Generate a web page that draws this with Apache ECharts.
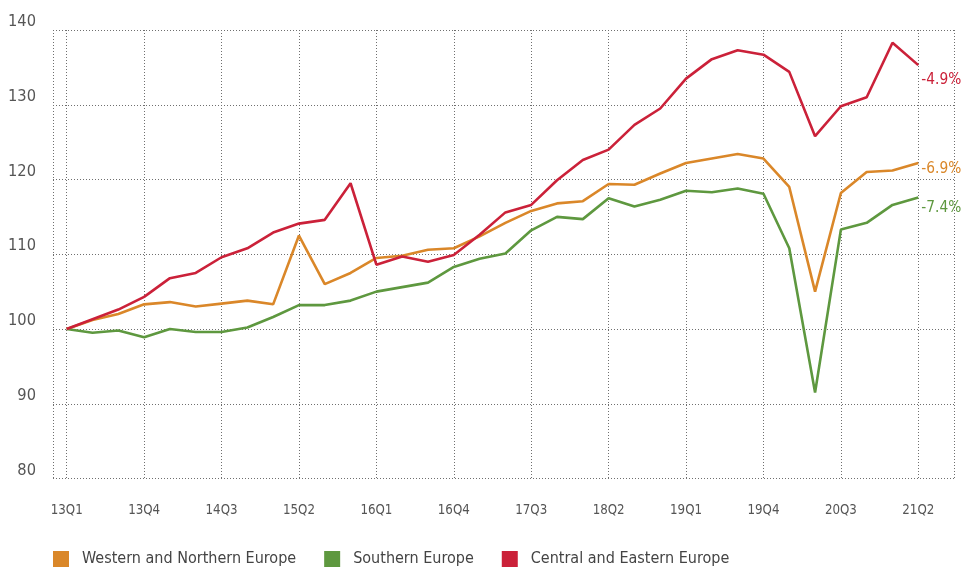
<!DOCTYPE html>
<html>
<head>
<meta charset="utf-8">
<title>Europe index</title>
<script src="https://cdn.jsdelivr.net/npm/echarts@6/dist/echarts.min.js"></script>
<style>
  html, body { margin: 0; padding: 0; background: #fff; }
  #main { width: 961px; height: 569px; }
</style>
</head>
<body>
<div id="main"></div>
<script>
// quarters 13Q1 .. 21Q2
var quarters = [];
for (var yr = 13; yr <= 21; yr++) {
  for (var q = 1; q <= 4; q++) {
    if (yr === 21 && q > 2) break;
    quarters.push(yr + 'Q' + q);
  }
}

var westNorth = [100, 101.2, 102.0, 103.3, 103.6, 103.0, 103.4, 103.8, 103.3, 112.5,
  106.0, 107.5, 109.5, 109.8, 110.6, 110.8, 112.4, 114.2, 115.8, 116.8,
  117.1, 119.4, 119.3, 120.8, 122.2, 122.8, 123.4, 122.8, 119.0, 105.0,
  118.2, 121.0, 121.2, 122.2];
var southern = [100, 99.5, 99.8, 98.9, 100.0, 99.6, 99.6, 100.2, 101.6, 103.2,
  103.2, 103.8, 105.0, 105.6, 106.2, 108.3, 109.4, 110.1, 113.2, 115.0,
  114.7, 117.5, 116.4, 117.3, 118.5, 118.3, 118.8, 118.1, 110.8, 91.5,
  113.3, 114.2, 116.6, 117.6];
var centralEast = [100, 101.3, 102.6, 104.3, 106.8, 107.5, 109.6, 110.8, 112.9, 114.1,
  114.6, 119.5, 108.6, 109.7, 109.0, 109.9, 112.6, 115.6, 116.6, 119.9,
  122.6, 124.0, 127.3, 129.5, 133.5, 136.1, 137.3, 136.7, 134.4, 125.8,
  129.8, 131.0, 138.3, 135.3];

var names = ['Western and Northern Europe', 'Southern Europe', 'Central and Eastern Europe'];
var endLabels = ['-6.9%', '-7.4%', '-4.9%'];
var colors = ['#DA8729', '#5E983F', '#CB2139'];

var fontNarrow = '"Noto Sans ExtraCondensed", "Noto Sans Condensed", "Liberation Sans Narrow", "DejaVu Sans Condensed", sans-serif';

// pick a font size so the text is about as wide as in the original (condensed face)
var measureCtx = document.createElement('canvas').getContext('2d');
function fitSize(text, target, maxSize) {
  measureCtx.font = '100px ' + fontNarrow;
  var w = measureCtx.measureText(text).width;
  return Math.min(maxSize, Math.round(1000 * target / w) / 10);
}
var legendSize = fitSize('Western and Northern Europe', 214, 21);
var yLabelSize = fitSize('140', 28, 21);
var xLabelSize = fitSize('13Q1', 32, 17);
var endSize = fitSize('-4.9%', 40, 20);

var gridLine = { show: true, lineStyle: { color: '#6f6f6f', type: [1, 2], width: 1 } };

var dom = document.getElementById('main');
var myChart = echarts.init(dom);

function lineSeries(idx, data, offsetY) {
  return {
    name: names[idx],
    type: 'line',
    xAxisIndex: 1,
    yAxisIndex: 1,
    data: data,
    symbol: 'none',
    lineStyle: { width: 2.6, color: colors[idx] },
    itemStyle: { color: colors[idx] },
    endLabel: {
      show: true,
      formatter: endLabels[idx],
      color: colors[idx],
      fontFamily: fontNarrow,
      fontSize: endSize,
      distance: 3,
      offset: [0, offsetY]
    },
    z: 3
  };
}

var option = {
  animation: false,
  color: colors,
  grid: [
    { left: 53, right: 7, top: 30, bottom: 90.5 },     // frame
    { left: 66.7, right: 42.7, top: 30, bottom: 90.5 } // data
  ],
  legend: {
    data: names,
    left: 53,
    top: 549,
    padding: 0,
    icon: 'rect',
    itemWidth: 16,
    itemHeight: 16,
    itemGap: 28,
    textStyle: {
      fontFamily: fontNarrow,
      fontSize: legendSize,
      lineHeight: 20,
      color: '#444',
      padding: [0, 0, 0, 8]
    }
  },
  xAxis: [
    {
      gridIndex: 0,
      type: 'value',
      min: 0,
      max: 1,
      interval: 1,
      axisLine: { show: false },
      axisTick: { show: false },
      axisLabel: { show: false },
      splitLine: gridLine
    },
    {
      gridIndex: 1,
      type: 'category',
      boundaryGap: false,
      data: quarters,
      axisLine: { show: false },
      axisTick: { show: false },
      axisLabel: {
        interval: 2,
        margin: 26,
        color: '#555',
        fontFamily: fontNarrow,
        fontSize: xLabelSize
      },
      splitLine: { show: true, interval: 2, lineStyle: gridLine.lineStyle }
    }
  ],
  yAxis: [
    {
      gridIndex: 0,
      type: 'value',
      min: 80,
      max: 140,
      interval: 10,
      axisLine: { show: false },
      axisTick: { show: false },
      axisLabel: {
        margin: 17,
        color: '#555',
        fontFamily: fontNarrow,
        fontSize: yLabelSize,
        verticalAlign: 'bottom',
        lineHeight: 16
      },
      splitLine: gridLine
    },
    {
      gridIndex: 1,
      type: 'value',
      min: 80,
      max: 140,
      show: false
    }
  ],
  series: [
    lineSeries(0, westNorth, 6),
    lineSeries(1, southern, 11),
    lineSeries(2, centralEast, 15)
  ]
};

if (option && typeof option === 'object') {
  myChart.setOption(option, true);
}
</script>
</body>
</html>
